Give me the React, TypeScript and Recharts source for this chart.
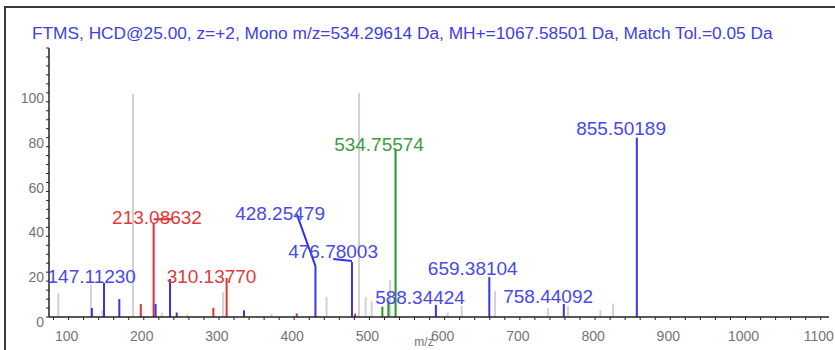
import {
  ComposedChart,
  Scatter,
  ErrorBar,
  XAxis,
  YAxis,
  ReferenceLine,
  ReferenceDot,
} from "recharts";

// unassigned fragment peaks (grey sticks)
const otherPeaks = [
  { mz: 86.4, intensity: 10.7 },
  { mz: 129.8, intensity: 14.3 },
  { mz: 145.0, intensity: 3 },
  { mz: 185.7, intensity: 99.5 },
  { mz: 224.0, intensity: 2 },
  { mz: 258.0, intensity: 1.2 },
  { mz: 305.4, intensity: 11 },
  { mz: 370.0, intensity: 1.5 },
  { mz: 443.0, intensity: 9 },
  { mz: 486.2, intensity: 100 },
  { mz: 495.0, intensity: 9 },
  { mz: 503.0, intensity: 7 },
  { mz: 527.5, intensity: 16.5 },
  { mz: 604.0, intensity: 2 },
  { mz: 622.7, intensity: 5 },
  { mz: 667.0, intensity: 11.5 },
  { mz: 737.5, intensity: 4 },
  { mz: 764.0, intensity: 5 },
  { mz: 807.0, intensity: 3 },
  { mz: 824.0, intensity: 6 },
];

// b/y ions (blue)
const blueIons = [
  { mz: 131.0, intensity: 4 },
  { mz: 147.1123, intensity: 15.2 },
  { mz: 167.5, intensity: 8 },
  { mz: 215.7, intensity: 5.8 },
  { mz: 234.9, intensity: 17 },
  { mz: 243.8, intensity: 2 },
  { mz: 333.3, intensity: 3 },
  { mz: 428.25479, intensity: 22.7 },
  { mz: 476.78003, intensity: 24.5 },
  { mz: 588.34424, intensity: 5.4 },
  { mz: 659.38104, intensity: 17.8 },
  { mz: 758.44092, intensity: 5.8 },
  { mz: 855.50189, intensity: 80 },
];

// red ions
const redIons = [
  { mz: 196.0, intensity: 5.8 },
  { mz: 213.08632, intensity: 42 },
  { mz: 292.5, intensity: 4.1 },
  { mz: 310.1377, intensity: 17.4 },
  { mz: 403.4, intensity: 1.6 },
  { mz: 481.0, intensity: 1.5 },
];

// precursor related (green)
const greenIons = [
  { mz: 517.2, intensity: 4.6 },
  { mz: 525.2, intensity: 7 },
  { mz: 534.75574, intensity: 75 },
];

const peakLabels = [
  "855.50189",
  "534.75574",
  "213.08632",
  "428.25479",
  "476.78003",
  "147.11230",
  "310.13770",
  "588.34424",
  "659.38104",
  "758.44092",
];

const xMajorTicks = [100, 200, 300, 400, 500, 600, 700, 800, 900, 1000, 1100];
const yMajorTicks = [0, 20, 40, 60, 80, 100];

const title =
  "FTMS, HCD@25.00, z=+2, Mono m/z=534.29614 Da, MH+=1067.58501 Da, Match Tol.=0.05 Da";

// label anchors in data units [m/z, intensity]
const labelSpots: Record<string, [number, number, string]> = {
  "855.50189": [834.6, 84.3, "#4848ee"],
  "534.75574": [512.8, 77.2, "#3f9a3f"],
  "213.08632": [217.6, 44.7, "#e03a3a"],
  "428.25479": [381.2, 46.5, "#4848ee"],
  "476.78003": [451.7, 29.4, "#4848ee"],
  "147.11230": [130.8, 18, "#4848ee"],
  "310.13770": [290.1, 18, "#e03a3a"],
  "588.34424": [567.3, 8.6, "#4848ee"],
  "659.38104": [637.4, 21.7, "#4848ee"],
  "758.44092": [737.6, 9.4, "#4848ee"],
};

// leader lines from label to peak
const leaders = [
  { a: [213.08632, 43.6], b: [238, 43.6], color: "#e3302c" },
  { a: [403.4, 45.9], b: [428.25479, 22.7], color: "#2f2fe8" },
  { a: [452, 25.9], b: [476.78003, 25], color: "#2f2fe8" },
];

const xMinorTicks = Array.from({ length: 52 }, (_, i) => 80 + i * 20);
const yMinorTicks = Array.from({ length: 31 }, (_, i) => i * 4);

const FONT = "'Liberation Sans', Arial, sans-serif";
const TICK_GREY = "#747474";

const XTick = (props: any) => {
  const { x, y, payload } = props;
  if (!xMajorTicks.includes(payload.value)) return <g />;
  return (
    <text x={x - 2} y={y} dy={19} textAnchor="middle" fill={TICK_GREY} fontSize={14} fontFamily={FONT}>
      {payload.value}
    </text>
  );
};

const YTick = (props: any) => {
  const { x, y, payload } = props;
  if (!yMajorTicks.includes(payload.value)) return <g />;
  return (
    <text x={x} y={y} dy={10} textAnchor="end" fill={TICK_GREY} fontSize={14} fontFamily={FONT}>
      {payload.value}
    </text>
  );
};

const noDot = () => <g />;

const series = [
  { name: "other", data: otherPeaks, color: "#d2d2d2" },
  { name: "red", data: redIons, color: "#e3302c" },
  { name: "green", data: greenIons, color: "#1f9a1f" },
  { name: "blue", data: blueIons, color: "#3535ee" },
];

export default function App() {
  return (
    <div
      style={{
        position: "absolute",
        left: 0,
        top: 0,
        width: 835,
        height: 350,
        overflow: "hidden",
        background: "#fff",
        fontFamily: FONT,
      }}
    >
      {/* frame */}
      <div
        style={{
          position: "absolute",
          left: 4,
          top: 6,
          width: 1000,
          height: 1000,
          borderTop: "2px solid #3a3a3a",
          borderLeft: "2px solid #3a3a3a",
        }}
      />
      <div
        style={{
          position: "absolute",
          left: 32,
          top: 22,
          fontSize: 17.3,
          lineHeight: "22px",
          color: "#4040e6",
          whiteSpace: "nowrap",
        }}
      >
        {title}
      </div>
      <div style={{ position: "absolute", left: 0, top: 0 }}>
        <ComposedChart
          width={835}
          height={350}
          margin={{ top: 48, right: 6, bottom: 3, left: 5 }}
        >
          <XAxis
            type="number"
            dataKey="mz"
            domain={[74, 1111]}
            ticks={xMinorTicks}
            interval={0}
            tick={<XTick />}
            tickSize={3}
            tickMargin={2}
            height={30}
            axisLine={{ stroke: "#222", strokeWidth: 1.5 }}
            tickLine={{ stroke: "#222" }}
            allowDataOverflow
            label={{
              value: "m/z",
              position: "insideBottom",
              offset: 1,
              dx: -15,
              fill: TICK_GREY,
              fontSize: 12,
            }}
          />
          <YAxis
            type="number"
            dataKey="intensity"
            domain={[0, 120]}
            ticks={yMinorTicks}
            interval={0}
            tick={<YTick />}
            tickSize={3}
            tickMargin={2}
            width={44}
            axisLine={{ stroke: "#222", strokeWidth: 1.5 }}
            tickLine={{ stroke: "#222" }}
            allowDataOverflow
          />
          {series.map((s) => (
            <Scatter
              key={s.name}
              name={s.name}
              data={s.data}
              dataKey="intensity"
              shape={noDot}
              isAnimationActive={false}
            >
              <ErrorBar
                dataKey={(d: any) => [d.intensity, 0]}
                direction="y"
                width={0}
                stroke={s.color}
                strokeWidth={2}
                isAnimationActive={false}
              />
            </Scatter>
          ))}
          {leaders.map((l, i) => (
            <ReferenceLine
              key={i}
              segment={[
                { x: l.a[0], y: l.a[1] },
                { x: l.b[0], y: l.b[1] },
              ]}
              stroke={l.color}
              strokeWidth={2}
            />
          ))}
          {peakLabels.map((t) => (
            <ReferenceDot
              key={t}
              x={labelSpots[t][0]}
              y={labelSpots[t][1]}
              r={0}
              fill="none"
              stroke="none"
              label={{
                value: t,
                position: "center",
                fill: labelSpots[t][2],
                fontSize: 19,
                fontFamily: FONT,
              }}
            />
          ))}
        </ComposedChart>
      </div>
    </div>
  );
}
